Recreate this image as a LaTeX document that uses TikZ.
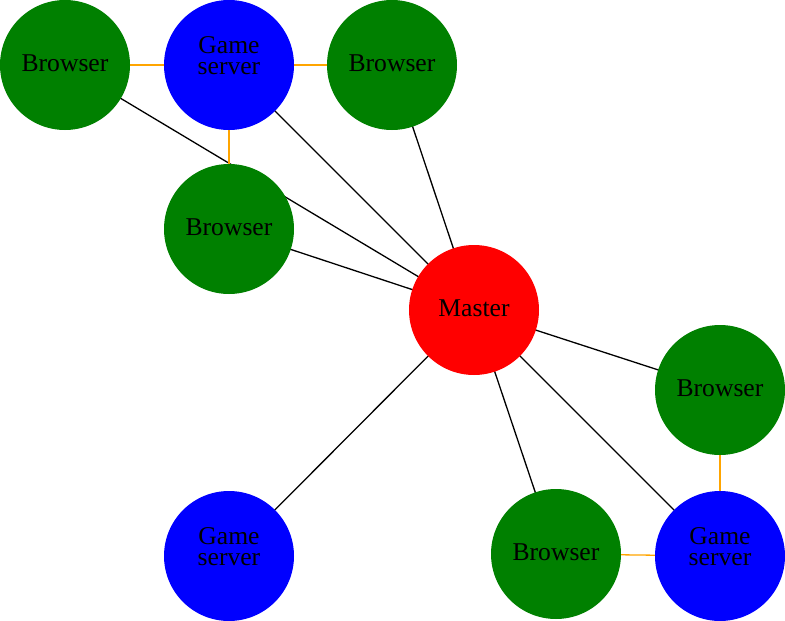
\documentclass[tikz,border=0pt]{standalone}
\usepackage{fontspec}
\setmainfont{Liberation Serif}
\usetikzlibrary{backgrounds}
\definecolor{bgreen}{RGB}{0,128,0}
\definecolor{bblue}{RGB}{0,0,255}
\definecolor{bred}{RGB}{255,0,0}
\definecolor{borange}{RGB}{255,165,0}
\tikzset{
  circ/.style={circle,minimum size=130pt,inner sep=0pt,draw=none},
  browser/.style={circ,fill=bgreen},
  gserver/.style={circ,fill=bblue},
  master/.style={circ,fill=bred},
  lbl/.style={anchor=base,inner sep=0pt,font=\fontsize{25.6pt}{25.6pt}\selectfont},
  lbltwo/.style={anchor=center,inner sep=0pt,align=center,font=\fontsize{25.6pt}{21pt}\selectfont},
  blk/.style={draw=black,line width=1.3pt},
  org/.style={draw=borange,line width=1.3pt},
}
\begin{document}
\begin{tikzpicture}[x=1pt,y=-1pt]
\useasboundingbox (0,0) rectangle (785,621);
\node[browser] (b1) at (65,65) {};
\node[gserver] (g1) at (229,65) {};
\node[browser] (b2) at (392,65) {};
\node[browser] (b3) at (229,229) {};
\node[master] (m) at (474,310) {};
\node[browser] (b4) at (720,390) {};
\node[gserver] (g2) at (229,556) {};
\node[browser] (b5) at (556,554) {};
\node[gserver] (g3) at (720,556) {};
% labels
\node[lbl] (t1) at ([yshift=-6pt]b1.center) {Browser};
\node[lbltwo] (t2) at ([yshift=9.5pt]g1.center) {Game\\server};
\node[lbl] (t3) at ([yshift=-6pt]b2.center) {Browser};
\node[lbl] (t4) at ([yshift=-6pt]b3.center) {Browser};
\node[lbl] (t5) at ([yshift=-6pt]m.center) {Master};
\node[lbl] (t6) at ([yshift=-6pt]b4.center) {Browser};
\node[lbltwo] (t7) at ([yshift=9.5pt]g2.center) {Game\\server};
\node[lbl] (t8) at ([yshift=-6pt]b5.center) {Browser};
\node[lbltwo] (t9) at ([yshift=9.5pt]g3.center) {Game\\server};
\begin{pgfonlayer}{background}
\draw[blk] (b1.center) -- (m.center);
\draw[blk] (g1.center) -- (m.center);
\draw[blk] (b2.center) -- (m.center);
\draw[blk] (b3.center) -- (m.center);
\draw[blk] (m.center) -- (b4.center);
\draw[blk] (m.center) -- (g2.center);
\draw[blk] (m.center) -- (b5.center);
\draw[blk] (m.center) -- (g3.center);
\draw[org] (b1.center) -- (g1.center);
\draw[org] (g1.center) -- (b2.center);
\draw[org] (g1.center) -- (b3.center);
\draw[org] (b4.center) -- (g3.center);
\draw[org] (b5.center) -- (g3.center);
\end{pgfonlayer}
\end{tikzpicture}
\end{document}
